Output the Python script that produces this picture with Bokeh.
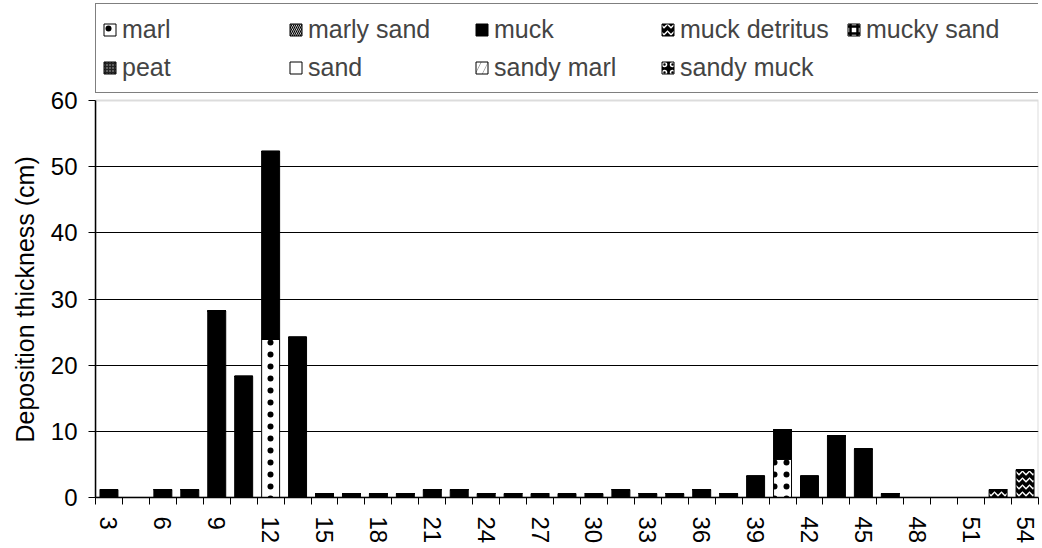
from bokeh.plotting import figure
from bokeh.models import (FixedTicker, Legend, LegendItem, BoxAnnotation, Title,
                          Range1d, ColumnDataSource)
from bokeh.transform import stack
from bokeh.embed import file_html
from bokeh.resources import INLINE

# ---------------- data ----------------
categories = [3, 4.5, 6, 7.5, 9, 10.5, 12, 13.5, 15, 16.5, 18, 19.5, 21, 22.5,
              24, 25.5, 27, 28.5, 30, 31.5, 33, 34.5, 36, 37.5, 39, 40.5, 42,
              43.5, 45, 46.5, 48, 49.5, 51, 52.5, 54]
tick_values = [3, 6, 9, 12, 15, 18, 21, 24, 27, 30, 33, 36, 39, 42, 45, 48, 51, 54]
y_ticks = [0, 10, 20, 30, 40, 50, 60]
y_grid = [10, 20, 30, 40, 50]

marl = [0, 0, 0, 0, 0, 0, 23.9, 0, 0, 0, 0, 0, 0, 0,
        0, 0, 0, 0, 0, 0, 0, 0, 0, 0, 0, 5.8, 0,
        0, 0, 0, 0, 0, 0, 0, 0]
marly_sand = [0, 0, 0, 0, 0, 0, 0, 0, 0, 0, 0, 0, 0, 0,
              0, 0, 0, 0, 0, 0, 0, 0, 0, 0, 0, 0, 0,
              0, 0, 0, 0, 0, 0, 0, 0]
muck = [1.2, 0, 1.2, 1.2, 28.2, 18.3, 28.4, 24.2, 0.6, 0.6, 0.6, 0.6, 1.2, 1.2,
        0.6, 0.6, 0.6, 0.6, 0.6, 1.2, 0.6, 0.6, 1.2, 0.6, 3.2, 4.4, 3.2,
        9.3, 7.3, 0.6, 0, 0, 0, 0, 0]
muck_detritus = [0, 0, 0, 0, 0, 0, 0, 0, 0, 0, 0, 0, 0, 0,
                 0, 0, 0, 0, 0, 0, 0, 0, 0, 0, 0, 0, 0,
                 0, 0, 0, 0, 0, 0, 1.2, 4.2]
mucky_sand = [0, 0, 0, 0, 0, 0, 0, 0, 0, 0, 0, 0, 0, 0,
              0, 0, 0, 0, 0, 0, 0, 0, 0, 0, 0, 0, 0,
              0, 0, 0, 0, 0, 0, 0, 0]
peat = [0, 0, 0, 0, 0, 0, 0, 0, 0, 0, 0, 0, 0, 0,
        0, 0, 0, 0, 0, 0, 0, 0, 0, 0, 0, 0, 0,
        0, 0, 0, 0, 0, 0, 0, 0]
sand = [0, 0, 0, 0, 0, 0, 0, 0, 0, 0, 0, 0, 0, 0,
        0, 0, 0, 0, 0, 0, 0, 0, 0, 0, 0, 0, 0,
        0, 0, 0, 0, 0, 0, 0, 0]
sandy_marl = [0, 0, 0, 0, 0, 0, 0, 0, 0, 0, 0, 0, 0, 0,
              0, 0, 0, 0, 0, 0, 0, 0, 0, 0, 0, 0, 0,
              0, 0, 0, 0, 0, 0, 0, 0]
sandy_muck = [0, 0, 0, 0, 0, 0, 0, 0, 0, 0, 0, 0, 0, 0,
              0, 0, 0, 0, 0, 0, 0, 0, 0, 0, 0, 0, 0,
              0, 0, 0, 0, 0, 0, 0, 0]

series_names = ["marl", "marly sand", "muck", "muck detritus", "mucky sand",
                "peat", "sand", "sandy marl", "sandy muck"]
series_cols = ["marl", "marly_sand", "muck", "muck_detritus", "mucky_sand",
               "peat", "sand", "sandy_marl", "sandy_muck"]

FONT = "Liberation Sans"

styles = {
    "marl":          dict(fill_color="white", hatch_pattern="dot", hatch_color="black", hatch_scale=12, hatch_weight=0.5),
    "marly sand":    dict(fill_color="white", hatch_pattern="left_diagonal_line", hatch_color="black", hatch_scale=4, hatch_weight=1.2),
    "muck":          dict(fill_color="black"),
    "muck detritus": dict(fill_color="black", hatch_pattern="horizontal_wave", hatch_color="white", hatch_scale=7, hatch_weight=1.5),
    "mucky sand":    dict(fill_color="white", hatch_pattern="cross", hatch_color="black", hatch_scale=7, hatch_weight=2.5),
    "peat":          dict(fill_color="#222222", hatch_pattern="dot", hatch_color="#bbbbbb", hatch_scale=3, hatch_weight=1),
    "sand":          dict(fill_color="white"),
    "sandy marl":    dict(fill_color="black", hatch_pattern="right_diagonal_line", hatch_color="white", hatch_scale=14, hatch_weight=6),
    "sandy muck":    dict(fill_color="black", hatch_pattern="ring", hatch_color="white", hatch_scale=8, hatch_weight=1.5),
}

# ---------------- figure ----------------
W, H = 1042, 548
LEFT, RIGHT, BOTTOM = 95, 4, 51
frame_h = H - BOTTOM            # frame starts at the very top (legend sits inside)
y_end = 60 * frame_h / (frame_h - 100.0)

p = figure(width=W, height=H, output_backend="svg", toolbar_location=None,
           x_range=Range1d(categories[0] - 0.75, categories[-1] + 0.75),
           y_range=Range1d(0, y_end),
           min_border_left=LEFT, min_border_right=RIGHT, min_border_top=0,
           min_border_bottom=BOTTOM)
p.outline_line_color = None
p.background_fill_color = "white"
p.border_fill_color = "white"

# plot-area border (grey top/right)
p.add_layout(BoxAnnotation(left=categories[0] - 0.75, right=categories[-1] + 0.75,
                           bottom=0, top=60, fill_alpha=0, line_color="#8c8c8c",
                           line_width=2, level="underlay"))

src = ColumnDataSource(dict(cat=categories, marl=marl, marly_sand=marly_sand, muck=muck,
                            muck_detritus=muck_detritus, mucky_sand=mucky_sand,
                            peat=peat, sand=sand, sandy_marl=sandy_marl,
                            sandy_muck=sandy_muck))

renderers = {}
for i, (col, name) in enumerate(zip(series_cols, series_names)):
    r = p.vbar(x="cat", width=1.0, bottom=stack(*series_cols[:i]),
               top=stack(*series_cols[:i + 1]), source=src,
               line_color="black", line_width=1, **styles[name])
    renderers[name] = r

items = [LegendItem(label=n, renderers=[renderers[n]]) for n in series_names]
LEG_H = 88
legend = Legend(items=items, orientation="horizontal", ncols=5,
                location=(0, frame_h - 5 - LEG_H),
                label_text_font=FONT, label_text_font_size="25px",
                glyph_width=15, glyph_height=15, label_width=166, label_height=38,
                label_standoff=5, spacing=0, padding=6, margin=0,
                border_line_color="black", border_line_width=1.5,
                background_fill_color="white", background_fill_alpha=1)
p.add_layout(legend)

# grid & axes
p.xgrid.visible = False
p.ygrid.ticker = FixedTicker(ticks=y_grid)
p.ygrid.grid_line_color = "black"
p.ygrid.grid_line_width = 1

yax = p.yaxis[0]
yax.ticker = FixedTicker(ticks=y_ticks)
yax.bounds = (0, 60)
yax.axis_line_color = "black"
yax.axis_line_width = 1.5
yax.major_tick_out = 7
yax.major_tick_in = 0
yax.minor_tick_out = 0
yax.minor_tick_in = 0
yax.major_tick_line_color = "black"
yax.major_label_text_font = FONT
yax.major_label_text_font_size = "24px"
yax.major_label_text_color = "black"
yax.major_label_standoff = 11

boundaries = [c - 0.75 for c in categories] + [categories[-1] + 0.75]
xax = p.xaxis[0]
xax.ticker = FixedTicker(ticks=tick_values, minor_ticks=boundaries)
xax.axis_line_color = "black"
xax.axis_line_width = 1.5
xax.major_tick_out = 0
xax.major_tick_in = 0
xax.minor_tick_out = 7
xax.minor_tick_in = 0
xax.minor_tick_line_color = "black"
xax.major_label_orientation = "vertical"
xax.major_label_text_font = FONT
xax.major_label_text_font_size = "24px"
xax.major_label_text_color = "black"
xax.major_label_standoff = 12

# y-axis title (left panel), positioned along the 0..60 span
p.add_layout(Title(text="Deposition thickness (cm)", align="left", offset=55,
                   vertical_align="top",
                   text_font=FONT, text_font_size="25px", text_font_style="normal",
                   text_color="black", standoff=14), "left")

open("out.html", "w").write(file_html(p, INLINE))
